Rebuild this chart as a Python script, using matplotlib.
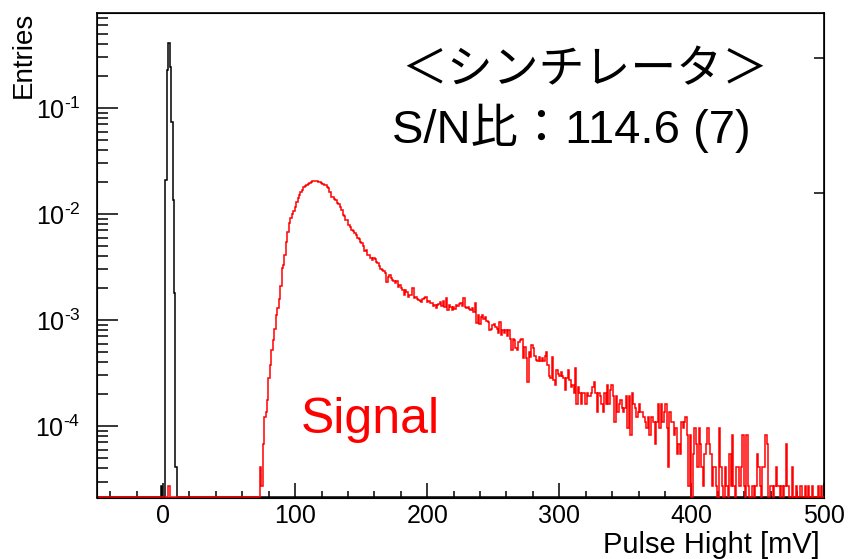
import numpy as np
import matplotlib.pyplot as plt
from matplotlib.ticker import MultipleLocator, LogLocator, NullFormatter, FuncFormatter

plt.rcParams['font.family'] = ['Liberation Sans', 'Noto Sans CJK JP', 'DejaVu Sans']
plt.rcParams['mathtext.fontset'] = 'custom'
plt.rcParams['mathtext.rm'] = 'Liberation Sans'
plt.rcParams['mathtext.it'] = 'Liberation Sans:italic'
plt.rcParams['mathtext.bf'] = 'Liberation Sans:bold'

# binning: 500 bins from -50 to 500 mV
x_lo, x_hi, n_bins = -50, 500, 500
entry = 1.36e-5        # one entry after normalisation
y_lo, y_hi = 2.12e-5, 0.787

# pedestal (black), entries per bin from bin 44 on
ped_first = 44
ped_counts = [2, 0, 0, 1544, 16900, 30150, 18000, 5440, 993, 132, 3]

# signal (red): one stray bin near 0, then the spectrum from bin 112 on
sig_stray_bin = 49
sig_stray = 2
sig_first = 112
sig_counts = [
    # 73 - 151 mV
    3, 2, 5, 9, 10, 13, 21, 28, 38, 48, 60, 82, 96, 115, 155, 228, 243, 300, 400, 500,
    600, 680, 740, 790, 860, 950, 1040, 1110, 1180, 1250, 1310, 1350, 1385, 1420, 1455, 1470, 1495, 1510, 1505, 1500,
    1475, 1460, 1435, 1420, 1395, 1370, 1320, 1280, 1190, 1070, 1060, 1030, 990, 925, 905, 865, 800, 725, 700, 650,
    645, 580, 560, 520, 505, 485, 470, 440, 430, 400, 390,
    # 151 - 259 mV
    365, 330, 335, 305, 300, 280, 270, 282, 275, 262, 252, 240, 225, 218, 212, 203, 169, 188, 195, 182,
    176, 170, 165, 170, 152, 158, 148, 140, 127, 140, 135, 122, 126, 128, 146, 118, 120, 117, 114, 112,
    110, 115, 118, 122, 110, 112, 106, 106, 100, 102, 95, 103, 104, 108, 100, 112, 98, 118, 91, 101,
    98, 91, 98, 94, 102, 99, 104, 106, 100, 118, 98, 96, 98, 94, 91, 96, 88, 106, 69, 82,
    68, 78, 82, 75, 78, 72, 71, 59, 61, 66, 68, 63, 60, 55, 71, 53, 59, 55,
    # 259 - 376 mV
    59, 52, 59, 49, 38, 49, 48, 40, 38, 46, 48, 49, 32, 41, 32, 19, 37, 33, 43, 40,
    34, 31, 30, 33, 30, 32, 30, 34, 37, 28, 22, 21, 33, 20, 18, 25, 23, 22, 24, 22,
    21, 16, 21, 25, 20, 17, 18, 15, 26, 12, 17, 15, 12, 15, 15, 12, 15, 14, 14, 15,
    17, 19, 15, 10, 15, 14, 12, 10, 15, 12, 18, 12, 16, 18, 14, 8, 14, 10, 12, 13,
    11, 10, 11, 14, 7, 14, 6, 15, 12, 11, 9, 10, 12, 10, 10, 9, 8, 7, 9, 6,
    9, 9, 8, 5, 8, 12,
    # 376 - 500 mV
    7, 12, 8, 10, 12, 7, 3, 10, 8, 8, 6, 7, 4, 5, 4, 8, 7, 8, 9, 6,
    2, 6, 1, 4, 7, 5, 3, 7, 5, 3, 2, 4, 5, 7, 5, 4, 2, 3, 3, 2,
    1, 7, 3, 2, 1, 3, 2, 1, 4, 2, 6, 2, 1, 3, 3, 2, 3, 6, 2, 1,
    6, 2, 1, 1, 2, 1, 2, 4, 3, 2, 1, 3, 3, 6, 5, 1, 2, 2, 1, 2,
    3, 2, 2, 1, 2, 1, 2, 5, 2, 1, 1, 3, 1, 1, 2, 1, 1, 2, 1, 1,
    2, 1, 2, 1, 1, 2, 1, 1, 1, 2, 1, 2, 1,
]

edges = np.linspace(x_lo, x_hi, n_bins + 1)
ped = np.zeros(n_bins)
ped[ped_first:ped_first + len(ped_counts)] = ped_counts
sig = np.zeros(n_bins)
sig[sig_stray_bin] = sig_stray
sig[sig_first:sig_first + len(sig_counts)] = sig_counts


def decade_label(v, pos):
    # ROOT style 10^-n with a short hyphen
    return r'$\mathregular{10^{‐%d}}$' % round(-np.log10(v))


fig = plt.figure(figsize=(8.49, 5.59), dpi=100)
ax = fig.add_axes([97 / 849, 61.5 / 559, 726.5 / 849, 484.5 / 559])

# empty bins sit on the lower frame, like ROOT does
ax.stairs(np.maximum(ped * entry, y_lo), edges, color='black', lw=1.1,
          baseline=None, zorder=3, clip_on=False)
ax.stairs(np.maximum(sig * entry, y_lo), edges, color='red', lw=1.1,
          baseline=None, zorder=4, clip_on=False)

ax.set_yscale('log')
ax.set_xlim(x_lo, x_hi)
ax.set_ylim(y_lo, y_hi)

ax.xaxis.set_major_locator(MultipleLocator(100))
ax.xaxis.set_minor_locator(MultipleLocator(20))
ax.yaxis.set_major_locator(LogLocator(base=10))
ax.yaxis.set_major_formatter(FuncFormatter(decade_label))
ax.yaxis.set_minor_locator(LogLocator(base=10, subs=np.arange(2, 10)))
ax.yaxis.set_minor_formatter(NullFormatter())

ax.tick_params(which='both', direction='in', top=False, right=False, width=1.1)
ax.tick_params(axis='x', which='major', length=11, labelsize=18, pad=5)
ax.tick_params(axis='x', which='minor', length=5)
ax.tick_params(axis='y', which='major', length=15, labelsize=18, pad=12)
ax.tick_params(axis='y', which='minor', length=8)
for s in ax.spines.values():
    s.set_linewidth(1.2)

# two lone ticks on the right frame
ax2 = ax.twinx()
ax2.set_ylim(0, 1)
ax2.set_yticks([0.628, 0.907])
ax2.tick_params(direction='in', length=7, width=1.1, labelright=False)

fig.text(24 / 849, 1 - 12 / 559, 'Entries', rotation=90, ha='center', va='top', fontsize=20)
fig.text(820 / 849, 6 / 559, 'Pulse Hight [mV]', ha='right', va='baseline', fontsize=21)

ax.text(0.671, 0.882, '＜シンチレータ＞', transform=ax.transAxes, ha='center', va='center',
        fontsize=33, family=['Noto Sans CJK JP', 'DejaVu Sans'])
ax.text(0.653, 0.731, 'S/N比：114.6 (7)', transform=ax.transAxes, ha='center', va='baseline',
        fontsize=34, family=['Liberation Sans', 'Noto Sans CJK JP'])
ax.text(0.3755, 0.133, 'Signal', transform=ax.transAxes, ha='center', va='baseline',
        fontsize=36, color='red')

fig.savefig('out.png', dpi=100)
